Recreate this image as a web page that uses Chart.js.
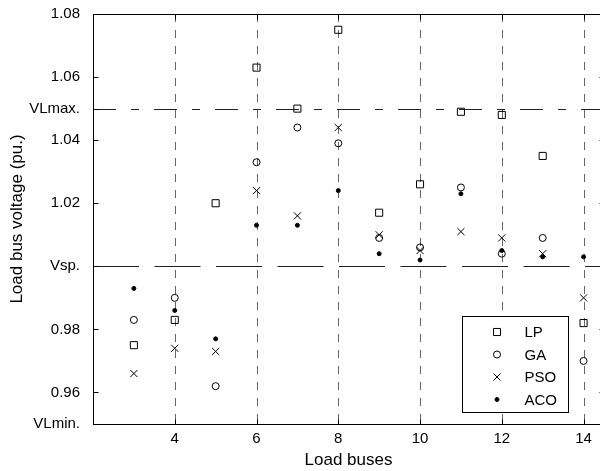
<!DOCTYPE html>
<html>
<head>
<meta charset="utf-8">
<script src="https://cdn.jsdelivr.net/npm/chart.js@4.4.0/dist/chart.umd.min.js"></script>
<style>
  html, body { margin: 0; padding: 0; background: #fff; }
  #wrap { width: 600px; height: 471px; overflow: hidden; }
</style>
</head>
<body>
<div id="wrap"><canvas id="chart" width="612" height="471"></canvas></div>
<script>
// Dados
const buses = [3, 4, 5, 6, 7, 8, 9, 10, 11, 12, 13, 14];
const lpVolt  = [0.975, 0.983, 1.020, 1.063, 1.050, 1.075, 1.017, 1.026, 1.049, 1.048, 1.035, 0.982];
const gaVolt  = [0.983, 0.990, 0.962, 1.033, 1.044, 1.039, 1.009, 1.006, 1.025, 1.004, 1.009, 0.970];
const psoVolt = [0.966, 0.974, 0.973, 1.024, 1.016, 1.044, 1.010, 1.005, 1.011, 1.009, 1.004, 0.990];
const acoVolt = [0.993, 0.986, 0.977, 1.013, 1.013, 1.024, 1.004, 1.002, 1.023, 1.005, 1.003, 1.003];

const xTicks = [4, 6, 8, 10, 12, 14];
const yTicks = [0.95, 0.96, 0.98, 1.00, 1.02, 1.04, 1.05, 1.06, 1.08];
const yNamed = { '0.95': 'VLmin.', '1.00': 'Vsp.', '1.05': 'VLmax.' };
const vMax = 1.05;
const vSp = 1.00;

const FONT = '"Liberation Sans", Arial, sans-serif';

function toPoints(values) {
    return buses.map((b, i) => ({ x: b, y: values[i] }));
}

// Linhas de referência, moldura e ticks internos
const framePlugin = {
    id: 'frame',
    beforeDatasetsDraw(chart) {
        const { ctx, chartArea: a, scales: { x, y } } = chart;
        ctx.save();
        ctx.lineWidth = 1;

        ctx.strokeStyle = '#666';
        ctx.setLineDash([8, 8]);
        xTicks.forEach(v => {
            const px = Math.round(x.getPixelForValue(v)) + 0.5;
            ctx.beginPath();
            ctx.moveTo(px, a.top);
            ctx.lineTo(px, a.bottom);
            ctx.stroke();
        });

        ctx.strokeStyle = '#222';
        const yMax = Math.round(y.getPixelForValue(vMax)) + 0.5;
        ctx.setLineDash([23, 15, 8, 15]);
        ctx.beginPath();
        ctx.moveTo(a.left, yMax);
        ctx.lineTo(a.right, yMax);
        ctx.stroke();

        const ySp = Math.round(y.getPixelForValue(vSp)) + 0.5;
        ctx.setLineDash([46, 15.5]);
        ctx.beginPath();
        ctx.moveTo(a.left, ySp);
        ctx.lineTo(a.right, ySp);
        ctx.stroke();
        ctx.restore();
    },
    afterDatasetsDraw(chart) {
        const { ctx, chartArea: a, scales: { x, y } } = chart;
        ctx.save();
        ctx.strokeStyle = '#000';
        ctx.lineWidth = 1;
        ctx.setLineDash([]);
        const l = Math.round(a.left) + 0.5, r = Math.round(a.right) + 0.5;
        const t = Math.round(a.top) + 0.5, b = Math.round(a.bottom) + 0.5;
        ctx.strokeRect(l, t, r - l, b - t);
        ctx.beginPath();
        yTicks.forEach(v => {
            const py = Math.round(y.getPixelForValue(v)) + 0.5;
            ctx.moveTo(l, py); ctx.lineTo(l + 5, py);
            ctx.moveTo(r, py); ctx.lineTo(r - 5, py);
        });
        xTicks.forEach(v => {
            const px = Math.round(x.getPixelForValue(v)) + 0.5;
            ctx.moveTo(px, b); ctx.lineTo(px, b - 5);
            ctx.moveTo(px, t); ctx.lineTo(px, t + 5);
        });
        ctx.stroke();
        ctx.restore();
    },
    afterDraw(chart) {
        // Legenda dentro da área do gráfico
        const { ctx } = chart;
        const box = { left: 462.5, top: 316.5, width: 106, height: 96 };
        ctx.save();
        ctx.fillStyle = '#fff';
        ctx.fillRect(box.left, box.top, box.width, box.height);
        ctx.strokeStyle = '#000';
        ctx.lineWidth = 1;
        ctx.strokeRect(box.left, box.top, box.width, box.height);
        ctx.font = '15px ' + FONT;
        ctx.textBaseline = 'middle';
        ctx.textAlign = 'left';
        chart.data.datasets.forEach((ds, i) => {
            const cy = box.top + 15.5 + i * 22.5;
            const cx = box.left + 34.5;
            ctx.strokeStyle = ds.borderColor;
            ctx.fillStyle = ds.backgroundColor;
            ctx.lineWidth = ds.borderWidth;
            Chart.helpers.drawPoint(ctx, {
                pointStyle: ds.pointStyle,
                radius: ds.legendRadius,
                rotation: 0,
                borderWidth: ds.borderWidth
            }, cx, cy);
            ctx.fillStyle = '#000';
            ctx.fillText(ds.label, box.left + 62, cy + 1);
        });
        ctx.restore();
    }
};

const ctx = document.getElementById('chart').getContext('2d');
const voltageChart = new Chart(ctx, {
    type: 'scatter',
    data: {
        datasets: [
            {
                label: 'LP', data: toPoints(lpVolt),
                pointStyle: 'rect', pointRadius: 5, legendRadius: 5,
                borderColor: '#000', backgroundColor: 'rgba(0,0,0,0)', borderWidth: 1
            },
            {
                label: 'GA', data: toPoints(gaVolt),
                pointStyle: 'circle', pointRadius: 3.5, legendRadius: 3.5,
                borderColor: '#000', backgroundColor: 'rgba(0,0,0,0)', borderWidth: 1
            },
            {
                label: 'PSO', data: toPoints(psoVolt),
                pointStyle: 'crossRot', pointRadius: 5, legendRadius: 5,
                borderColor: '#000', backgroundColor: 'rgba(0,0,0,0)', borderWidth: 1
            },
            {
                label: 'ACO', data: toPoints(acoVolt),
                pointStyle: 'circle', pointRadius: 2, legendRadius: 2,
                borderColor: '#000', backgroundColor: '#000', borderWidth: 1
            }
        ]
    },
    options: {
        responsive: false,
        animation: false,
        devicePixelRatio: 1,
        layout: { padding: { left: 0, right: 8, top: 12, bottom: 0 } },
        plugins: {
            legend: { display: false },
            tooltip: { enabled: false }
        },
        scales: {
            x: {
                type: 'linear',
                min: 2,
                max: 14.5,
                afterBuildTicks: scale => { scale.ticks = xTicks.map(v => ({ value: v })); },
                afterFit: scale => { scale.height = 47; },
                grid: { display: false },
                border: { display: false },
                ticks: { color: '#000', font: { family: FONT, size: 15 }, padding: -2, maxRotation: 0 },
                title: {
                    display: true, text: 'Load buses', color: '#000',
                    font: { family: FONT, size: 17 }, padding: { top: 0, bottom: 0 }
                }
            },
            y: {
                type: 'linear',
                min: 0.95,
                max: 1.08,
                afterBuildTicks: scale => { scale.ticks = yTicks.map(v => ({ value: v })); },
                afterFit: scale => { scale.width = 93; },
                grid: { display: false },
                border: { display: false },
                ticks: {
                    color: '#000', font: { family: FONT, size: 15 }, padding: 5,
                    callback: v => yNamed[v.toFixed(2)] || v.toFixed(2)
                },
                title: {
                    display: true, text: 'Load bus voltage (pu.)', color: '#000',
                    font: { family: FONT, size: 17 }, padding: { top: 7, bottom: 0 }
                }
            }
        }
    },
    plugins: [framePlugin]
});
</script>
</body>
</html>
